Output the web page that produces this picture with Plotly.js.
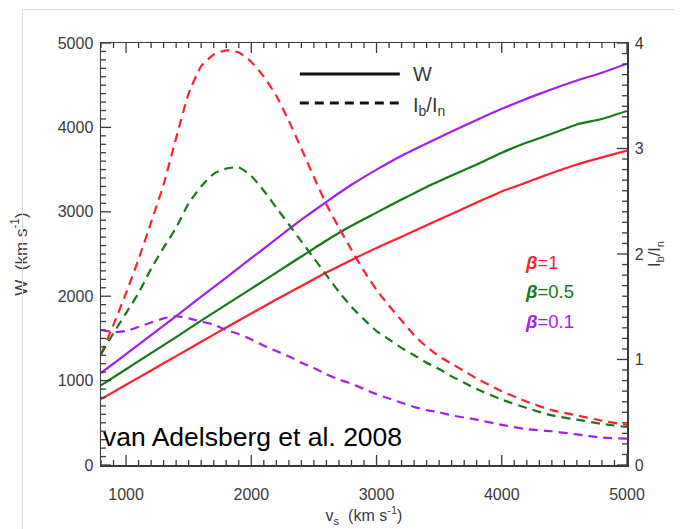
<!DOCTYPE html>
<html>
<head>
<meta charset="utf-8">
<script src="https://cdn.plot.ly/plotly-3.0.1.min.js"></script>
<style>
html,body{margin:0;padding:0;background:#fff;}
#wrap{position:relative;width:681px;height:529px;}
#chart{position:absolute;left:0;top:0;width:681px;height:529px;}
#frame{position:absolute;left:22px;top:9px;width:652px;height:530px;border-top:1px solid #dddddd;border-left:1px solid #dddddd;pointer-events:none;}
</style>
</head>
<body>
<div id="wrap"><div id="chart"></div><div id="frame"></div></div>
<script>
// Shock speed v_s (km/s) grid for W curves
const W_VS = [800, 1000, 1200, 1400, 1600, 1800, 2000, 2200, 2400, 2600, 2800, 3000, 3200, 3400, 3600, 3800, 4000, 4200, 4400, 4600, 4800, 5000];
// W (km/s) for each beta
const W_BETA1   = [780, 950, 1120, 1290, 1460, 1630, 1795, 1960, 2120, 2280, 2430, 2572, 2705, 2840, 2975, 3110, 3240, 3350, 3460, 3560, 3645, 3725];
const W_BETA05  = [945, 1135, 1325, 1515, 1710, 1900, 2090, 2280, 2470, 2660, 2835, 2990, 3145, 3295, 3430, 3560, 3700, 3820, 3925, 4035, 4100, 4195];
const W_BETA01  = [1090, 1315, 1540, 1765, 1995, 2220, 2450, 2680, 2906, 3118, 3320, 3500, 3665, 3810, 3950, 4088, 4220, 4341, 4453, 4555, 4648, 4755];

// v_s grid for I_b/I_n curves
const R_VS = [800, 900, 1000, 1100, 1200, 1300, 1400, 1500, 1600, 1700, 1800, 1900, 2000, 2100, 2200, 2300, 2400, 2500, 2600, 2700, 2800, 2900, 3000, 3100, 3200, 3300, 3400, 3500, 3600, 3700, 3800, 4000, 4200, 4400, 4600, 4800, 5000];
// I_b/I_n for each beta
const R_BETA1  = [1.05, 1.33, 1.63, 1.95, 2.30, 2.66, 3.10, 3.52, 3.78, 3.89, 3.93, 3.91, 3.82, 3.68, 3.50, 3.26, 3.00, 2.73, 2.47, 2.25, 2.04, 1.84, 1.66, 1.51, 1.37, 1.23, 1.12, 1.03, 0.96, 0.89, 0.82, 0.70, 0.60, 0.52, 0.47, 0.42, 0.38];
const R_BETA05 = [1.05, 1.25, 1.44, 1.63, 1.86, 2.06, 2.25, 2.48, 2.64, 2.76, 2.81, 2.82, 2.74, 2.60, 2.44, 2.28, 2.12, 1.96, 1.80, 1.64, 1.50, 1.38, 1.27, 1.19, 1.11, 1.04, 0.97, 0.91, 0.84, 0.78, 0.72, 0.62, 0.54, 0.47, 0.43, 0.39, 0.36];
const R_BETA01 = [1.28, 1.26, 1.27, 1.31, 1.35, 1.39, 1.41, 1.39, 1.36, 1.33, 1.28, 1.24, 1.19, 1.13, 1.08, 1.03, 0.97, 0.92, 0.86, 0.81, 0.77, 0.72, 0.67, 0.63, 0.59, 0.55, 0.52, 0.50, 0.47, 0.45, 0.43, 0.38, 0.34, 0.32, 0.29, 0.26, 0.25];

const BETA_LABELS = ['β=1', 'β=0.5', 'β=0.1'];
const COLORS = ['#ff1f2f', '#167816', '#a020f0'];

const W_SERIES = [W_BETA1, W_BETA05, W_BETA01];
const R_SERIES = [R_BETA1, R_BETA05, R_BETA01];

const FONT = '"Liberation Sans", Arial, sans-serif';
const AXC = '#3a3a3a';

// axis settings
const X_RANGE = [800, 5000], X_MAJOR = 1000, X_MINOR = 100;
const Y_RANGE = [0, 5000], Y_MAJOR = 1000, Y_MINOR = 100;
const Y2_RANGE = [0, 4], Y2_MAJOR = 1, Y2_MINOR = 0.1;

const MARGIN = {l: 101, r: 54, t: 43, b: 64};
const W = 681, H = 529;
const PW = W - MARGIN.l - MARGIN.r, PH = H - MARGIN.t - MARGIN.b;
const MAJOR_LEN = 10, MINOR_LEN = 5;

const traces = [];
W_SERIES.forEach((ys, i) => {
  traces.push({x: W_VS, y: ys, yaxis: 'y', type: 'scatter', mode: 'lines',
    line: {color: COLORS[i], width: 2.2, shape: 'spline', smoothing: 0.5}, name: 'W ' + BETA_LABELS[i]});
});
R_SERIES.forEach((ys, i) => {
  traces.push({x: R_VS, y: ys, yaxis: 'y2', type: 'scatter', mode: 'lines',
    line: {color: COLORS[i], width: 2.2, dash: '9px,6px', shape: 'spline', smoothing: 0.6}, name: 'Ib/In ' + BETA_LABELS[i]});
});

// tick marks along the frame (inside), generated from the axis settings
function tickValues(range, minor) {
  const out = [];
  const n = Math.round((range[1] - range[0]) / minor);
  for (let k = 0; k <= n; k++) out.push(+(range[0] + k * minor).toFixed(6));
  return out;
}
function isMajor(v, major) {
  const q = v / major;
  return Math.abs(q - Math.round(q)) < 1e-6;
}
const tickShapes = [];
const tickLine = {color: AXC, width: 1.3};
tickValues(X_RANGE, X_MINOR).forEach(v => {
  const len = isMajor(v, X_MAJOR) ? MAJOR_LEN : MINOR_LEN;
  tickShapes.push({type: 'line', layer: 'above', xref: 'x', yref: 'paper', x0: v, x1: v, y0: 0, y1: len / PH, line: tickLine});
  tickShapes.push({type: 'line', layer: 'above', xref: 'x', yref: 'paper', x0: v, x1: v, y0: 1, y1: 1 - len / PH, line: tickLine});
});
tickValues(Y_RANGE, Y_MINOR).forEach(v => {
  const len = isMajor(v, Y_MAJOR) ? MAJOR_LEN : MINOR_LEN;
  tickShapes.push({type: 'line', layer: 'above', xref: 'paper', yref: 'y', x0: 0, x1: len / PW, y0: v, y1: v, line: tickLine});
});
tickValues(Y2_RANGE, Y2_MINOR).forEach(v => {
  const len = isMajor(v, Y2_MAJOR) ? MAJOR_LEN : MINOR_LEN;
  tickShapes.push({type: 'line', layer: 'above', xref: 'paper', yref: 'y2', x0: 1, x1: 1 - len / PW, y0: v, y1: v, line: tickLine});
});

const axisCommon = {
  showline: true, linecolor: AXC, linewidth: 1.5, ticks: '', showgrid: false, zeroline: false,
  tickfont: {family: FONT, size: 16, color: AXC}
};

const layout = {
  width: W, height: H,
  margin: MARGIN,
  paper_bgcolor: 'rgba(0,0,0,0)', plot_bgcolor: 'rgba(0,0,0,0)',
  showlegend: false,
  xaxis: Object.assign({}, axisCommon, {
    range: X_RANGE, tickmode: 'linear', tick0: 0, dtick: X_MAJOR, mirror: true, ticklabelstandoff: 14,
    title: {text: 'v<sub>s</sub>  (km s<sup>-1</sup>)', font: {family: FONT, size: 16, color: AXC}, standoff: 8}
  }),
  yaxis: Object.assign({}, axisCommon, {
    range: Y_RANGE, tickmode: 'linear', tick0: 0, dtick: Y_MAJOR, ticklabelstandoff: 3,
    title: {text: 'W  (km s<sup>-1</sup>)', font: {family: FONT, size: 17, color: AXC}, standoff: 26}
  }),
  yaxis2: Object.assign({}, axisCommon, {
    range: Y2_RANGE, tickmode: 'linear', tick0: 0, dtick: Y2_MAJOR, overlaying: 'y', side: 'right', anchor: 'x', ticklabelstandoff: 3,
    title: {text: 'I<sub>b</sub>/I<sub>n</sub>', font: {family: FONT, size: 16, color: AXC}, standoff: 6}
  }),
  shapes: [
    // legend samples
    {type: 'line', xref: 'paper', yref: 'paper', x0: 0.378, x1: 0.568, y0: 0.9265, y1: 0.9265, line: {color: '#111', width: 3}},
    {type: 'line', xref: 'paper', yref: 'paper', x0: 0.378, x1: 0.568, y0: 0.8578, y1: 0.8578, line: {color: '#111', width: 3, dash: '9px,6px'}}
  ].concat(tickShapes),
  annotations: [
    {xref: 'paper', yref: 'paper', x: 0.590, y: 0.9265, xanchor: 'left', yanchor: 'middle', showarrow: false,
      text: 'W', font: {family: FONT, size: 20, color: AXC}},
    {xref: 'paper', yref: 'paper', x: 0.590, y: 0.850, xanchor: 'left', yanchor: 'middle', showarrow: false,
      text: 'I<sub>b</sub>/I<sub>n</sub>', font: {family: FONT, size: 20, color: AXC}},
    {xref: 'paper', yref: 'paper', x: 0.0, y: 0.0664, xanchor: 'left', yanchor: 'middle', showarrow: false,
      text: 'van Adelsberg et al. 2008', font: {family: FONT, size: 26.5, color: '#000'}},
    {xref: 'paper', yref: 'paper', x: 0.802, y: 0.481, xanchor: 'left', yanchor: 'middle', showarrow: false,
      text: '<b><i>β</i></b>=1', font: {family: FONT, size: 18.5, color: COLORS[0]}},
    {xref: 'paper', yref: 'paper', x: 0.802, y: 0.410, xanchor: 'left', yanchor: 'middle', showarrow: false,
      text: '<b><i>β</i></b>=0.5', font: {family: FONT, size: 18.5, color: COLORS[1]}},
    {xref: 'paper', yref: 'paper', x: 0.802, y: 0.339, xanchor: 'left', yanchor: 'middle', showarrow: false,
      text: '<b><i>β</i></b>=0.1', font: {family: FONT, size: 18.5, color: COLORS[2]}}
  ]
};

Plotly.newPlot('chart', traces, layout, {staticPlot: true, displayModeBar: false});
</script>
</body>
</html>
